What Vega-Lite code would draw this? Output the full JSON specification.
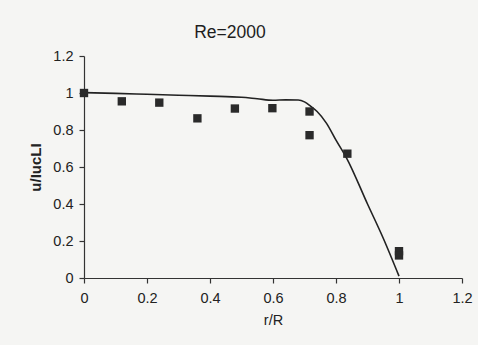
{
  "$schema": "https://vega.github.io/schema/vega-lite/v6.json",
  "autosize": "none",
  "width": 378,
  "height": 222,
  "padding": {"left": 84, "top": 56, "right": 16, "bottom": 67},
  "background": "#f5f5f3",
  "title": {"text": "Re=2000", "anchor": "middle", "dx": -43, "offset": 7, "fontSize": 17.5, "fontWeight": "normal", "font": "Liberation Sans", "color": "#1e1e1e"},
  "config": {
    "view": {"stroke": null},
    "font": "Liberation Sans",
    "axis": {"grid": false, "domainColor": "#333", "tickColor": "#333", "labelColor": "#222", "titleColor": "#222", "labelFontSize": 14.5, "titleFontSize": 14.5, "titleFontWeight": "normal", "tickSize": 5, "domainWidth": 1.2, "tickWidth": 1.2, "labelOverlap": false, "labelFlush": false, "format": "~g"}
  },
  "datasets": {
    "measured": [
      {"r": 0.0, "u": 1.0},
      {"r": 0.12, "u": 0.955},
      {"r": 0.239, "u": 0.948},
      {"r": 0.36, "u": 0.863},
      {"r": 0.479, "u": 0.916},
      {"r": 0.598, "u": 0.918},
      {"r": 0.716, "u": 0.9},
      {"r": 0.716, "u": 0.772},
      {"r": 0.836, "u": 0.672},
      {"r": 1.0, "u": 0.145},
      {"r": 1.0, "u": 0.122}
    ],
    "model": [
      {"r": 0.0, "u": 1.002},
      {"r": 0.1, "u": 0.998},
      {"r": 0.2, "u": 0.993},
      {"r": 0.3, "u": 0.988},
      {"r": 0.4, "u": 0.983},
      {"r": 0.5, "u": 0.977},
      {"r": 0.55, "u": 0.969},
      {"r": 0.6, "u": 0.961},
      {"r": 0.64, "u": 0.963},
      {"r": 0.68, "u": 0.962},
      {"r": 0.7, "u": 0.952},
      {"r": 0.72, "u": 0.928},
      {"r": 0.74, "u": 0.9},
      {"r": 0.77, "u": 0.836},
      {"r": 0.8, "u": 0.745},
      {"r": 0.834, "u": 0.647},
      {"r": 0.9, "u": 0.4},
      {"r": 0.95, "u": 0.215},
      {"r": 1.0, "u": 0.01}
    ]
  },
  "layer": [
    {
      "data": {"name": "model"},
      "mark": {"type": "line", "color": "#222", "strokeWidth": 1.6, "interpolate": "monotone"},
      "encoding": {
        "x": {"field": "r", "type": "quantitative", "scale": {"domain": [0, 1.2], "nice": false},
          "axis": {"values": [0, 0.2, 0.4, 0.6, 0.8, 1, 1.2], "title": "r/R", "labelPadding": 8, "titlePadding": 9, "labelOverlap": false}},
        "y": {"field": "u", "type": "quantitative", "scale": {"domain": [0, 1.2], "nice": false},
          "axis": {"values": [0, 0.2, 0.4, 0.6, 0.8, 1, 1.2], "title": "u/IucLI", "labelPadding": 6, "titlePadding": 9, "titleFontWeight": "bold", "titleFontSize": 15, "labelOverlap": false, "tickCount": 7}}
      }
    },
    {
      "data": {"name": "measured"},
      "mark": {"type": "square", "color": "#2a2a2a", "opacity": 1, "size": 70},
      "encoding": {
        "x": {"field": "r", "type": "quantitative"},
        "y": {"field": "u", "type": "quantitative"}
      }
    }
  ]
}
